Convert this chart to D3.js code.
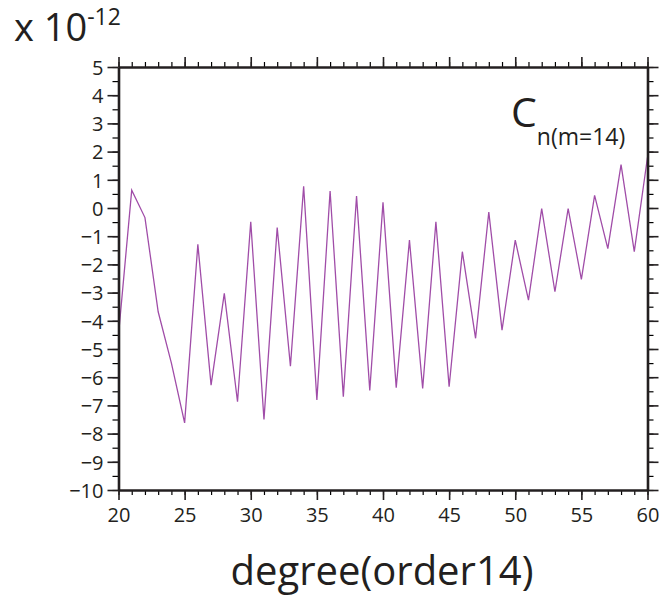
<!DOCTYPE html>
<html>
<head>
<meta charset="utf-8">
<script src="https://cdn.jsdelivr.net/npm/d3@7"></script>
<style>
body { margin: 0; background: #fff; }
text { font-family: "Open Sans", "Noto Sans", sans-serif; fill: #231f20; }
.axis path, .axis line { stroke: #231f20; }
</style>
</head>
<body>
<svg id="chart" width="662" height="597"></svg>
<script>
// degree n (order m = 14) and coefficient C (x 1e-12)
var degrees = d3.range(20, 61);
var cValues = [
  -4.5, 0.63, -0.34, -3.68, -5.5, -7.62, -1.29, -6.28, -3.03, -6.87,
  -0.49, -7.5, -0.69, -5.61, 0.77, -6.81, 0.6, -6.69, 0.42, -6.47,
  0.2, -6.37, -1.14, -6.4, -0.49, -6.34, -1.55, -4.62, -0.14, -4.33,
  -1.14, -3.27, -0.02, -2.97, -0.02, -2.53, 0.45, -1.44, 1.54, -1.55,
  1.8
];
var xTicks = [20, 25, 30, 35, 40, 45, 50, 55, 60];
var yTicks = d3.range(-10, 6);

var margin = {left: 118.5, top: 67, right: 14.5, bottom: 107};
var width = 662 - margin.left - margin.right,
    height = 597 - margin.top - margin.bottom;

var svg = d3.select("#chart");
var g = svg.append("g").attr("transform", "translate(" + margin.left + "," + margin.top + ")");

var x = d3.scaleLinear().domain([20, 60]).range([0, width]);
var y = d3.scaleLinear().domain([-10, 5]).range([height, 0]);

var fmt = function(d){ return d < 0 ? "\u2212" + Math.abs(d) : d + ""; };

// clip for the line
svg.append("defs").append("clipPath").attr("id", "clip")
  .append("rect").attr("width", width).attr("height", height);

var line = d3.line().x(function(d, i){ return x(degrees[i]); }).y(function(d){ return y(d); });
g.append("path").datum(cValues)
  .attr("clip-path", "url(#clip)")
  .attr("d", line)
  .style("fill", "none").style("stroke", "#a04da8").style("stroke-width", 1.3)
  .style("stroke-linejoin", "miter");

// minor ticks
function minor(axisGen, sel){
  sel.call(axisGen);
  sel.select(".domain").remove();
  sel.selectAll("text").remove();
  sel.selectAll("line").style("stroke-width", 1.2);
}
minor(d3.axisBottom(x).tickValues(d3.range(20, 61)).tickSize(5), g.append("g").attr("transform", "translate(0," + height + ")"));
minor(d3.axisTop(x).tickValues(d3.range(20, 61)).tickSize(5), g.append("g"));
minor(d3.axisLeft(y).tickValues(d3.range(-10, 5.01, 0.5)).tickSize(6), g.append("g"));
minor(d3.axisRight(y).tickValues(d3.range(-10, 5.01, 0.5)).tickSize(6), g.append("g").attr("transform", "translate(" + width + ",0)"));

// major axes
var xb = g.append("g").attr("class", "axis").attr("transform", "translate(0," + height + ")")
  .call(d3.axisBottom(x).tickValues(xTicks).tickSize(10).tickSizeOuter(0).tickPadding(6));
var xt = g.append("g").attr("class", "axis")
  .call(d3.axisTop(x).tickValues(xTicks).tickSize(10).tickSizeOuter(0).tickFormat(""));
var yl = g.append("g").attr("class", "axis")
  .call(d3.axisLeft(y).tickValues(yTicks).tickSize(11).tickSizeOuter(0).tickFormat(fmt).tickPadding(4));
var yr = g.append("g").attr("class", "axis").attr("transform", "translate(" + width + ",0)")
  .call(d3.axisRight(y).tickValues(yTicks).tickSize(11).tickSizeOuter(0).tickFormat(""));

[xb, xt, yl, yr].forEach(function(a){
  a.select(".domain").style("stroke-width", 2.6);
  a.selectAll(".tick line").style("stroke-width", 1.6);
  a.selectAll("text").style("font-size", "20px").style("fill", "#231f20");
});
xb.selectAll("text").attr("dy", "0.8em");
yl.selectAll("text").attr("dy", "0.36em");

// exponent label
var ex = svg.append("text").attr("x", 14).attr("y", 41).style("font-size", "38px");
ex.append("tspan").text("x 10");
ex.append("tspan").attr("dy", -16).style("font-size", "23px").text("-12");

// series label
var cl = svg.append("text").attr("x", 511).attr("y", 127).style("font-size", "41px");
cl.append("tspan").text("C");
cl.append("tspan").attr("dy", 18).style("font-size", "23px").text("n(m=14)");

// x label
svg.append("text").attr("x", 382).attr("y", 585).attr("text-anchor", "middle")
  .style("font-size", "40px").text("degree(order14)");
</script>
</body>
</html>
